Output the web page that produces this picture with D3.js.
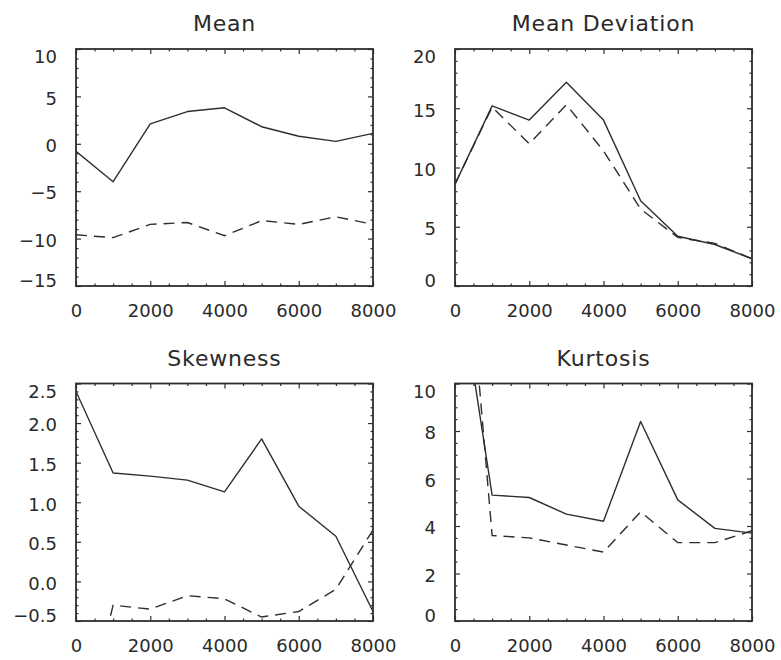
<!DOCTYPE html>
<html>
<head>
<meta charset="utf-8">
<script src="https://cdn.jsdelivr.net/npm/d3@7"></script>
<style>
  html, body { margin: 0; padding: 0; background: #fff; }
  svg { display: block; }
  text { font-family: "DejaVu Sans", sans-serif; fill: #2a2a2a; }
</style>
</head>
<body>
<svg id="chart" width="781" height="660"></svg>
<script>
// ---- data ----
const xValues = [0, 1000, 2000, 3000, 4000, 5000, 6000, 7000, 8000];
const xTicks = [0, 2000, 4000, 6000, 8000];

const titles = ["Mean", "Mean Deviation", "Skewness", "Kurtosis"];

const meanSolid  = [-0.8, -4.0, 2.1, 3.4, 3.8, 1.8, 0.8, 0.25, 1.1];
const meanDashed = [-9.6, -9.9, -8.5, -8.3, -9.7, -8.1, -8.5, -7.7, -8.5];

const mdevSolid  = [8.6, 15.2, 14.0, 17.2, 14.0, 7.2, 4.2, 3.5, 2.3];
const mdevDashed = [8.6, 15.1, 12.0, 15.3, 11.4, 6.5, 4.1, 3.6, 2.3];

const skewSolid  = [2.4, 1.37, 1.33, 1.28, 1.13, 1.8, 0.95, 0.57, -0.38];
const skewDashed = [-2.2, -0.3, -0.35, -0.18, -0.22, -0.45, -0.38, -0.1, 0.65];

const kurtSolid  = [15.5, 5.3, 5.2, 4.5, 4.2, 8.4, 5.1, 3.9, 3.7];
const kurtDashed = [22.0, 3.6, 3.5, 3.2, 2.9, 4.6, 3.3, 3.3, 3.8];

const meanTicks = [-15, -10, -5, 0, 5, 10];
const mdevTicks = [0, 5, 10, 15, 20];
const skewTicks = [-0.5, 0.0, 0.5, 1.0, 1.5, 2.0, 2.5];
const kurtTicks = [0, 2, 4, 6, 8, 10];

// ---- layout ----
const cols = [[76, 373], [455, 752]];
const rows = [[49, 286], [383.5, 621]];

const panels = [
  { title: titles[0], solid: meanSolid, dashed: meanDashed, domain: [-15, 10], ticks: meanTicks, minor: 1, fmt: d3.format("d"), col: 0, row: 0 },
  { title: titles[1], solid: mdevSolid, dashed: mdevDashed, domain: [0, 20], ticks: mdevTicks, minor: 1, fmt: d3.format("d"), col: 1, row: 0 },
  { title: titles[2], solid: skewSolid, dashed: skewDashed, domain: [-0.5, 2.5], ticks: skewTicks, minor: 0.1, fmt: d3.format(".1f"), col: 0, row: 1 },
  { title: titles[3], solid: kurtSolid, dashed: kurtDashed, domain: [0, 10], ticks: kurtTicks, minor: 0.5, fmt: d3.format("d"), col: 1, row: 1 }
];

const svg = d3.select("#chart");
const ink = "#2e2e2e";

panels.forEach((p, i) => {
  const [x0, x1] = cols[p.col];
  const [y0, y1] = rows[p.row];
  const x = d3.scaleLinear().domain([0, 8000]).range([x0, x1]);
  const y = d3.scaleLinear().domain(p.domain).range([y1, y0]);

  const g = svg.append("g");

  // clip
  const clipId = "clip" + i;
  svg.append("clipPath").attr("id", clipId)
    .append("rect").attr("x", x0).attr("y", y0).attr("width", x1 - x0).attr("height", y1 - y0);

  // minor tick values
  const nMinorX = Math.round(8000 / 500);
  const minorX = d3.range(nMinorX + 1).map(k => k * 500).filter(v => v % 2000 !== 0);
  const nMinorY = Math.round((p.domain[1] - p.domain[0]) / p.minor);
  const minorY = d3.range(nMinorY + 1).map(k => +(p.domain[0] + k * p.minor).toFixed(4))
    .filter(v => !p.ticks.some(t => Math.abs(t - v) < 1e-6));

  const styleAxis = sel => {
    sel.select(".domain").remove();
    sel.selectAll("line").attr("stroke", ink).attr("stroke-width", 1.2);
    sel.selectAll("text").attr("font-size", 18).attr("font-family", "DejaVu Sans, sans-serif").attr("fill", "#2a2a2a");
  };

  // bottom axis with labels
  g.append("g").attr("transform", `translate(0,${y1})`)
    .call(d3.axisBottom(x).tickValues(xTicks).tickFormat(d3.format("d")).tickSizeInner(-5).tickSizeOuter(0).tickPadding(18))
    .call(styleAxis);
  g.append("g").attr("transform", `translate(0,${y1})`)
    .call(d3.axisBottom(x).tickValues(minorX).tickFormat("").tickSizeInner(-2.5).tickSizeOuter(0))
    .call(styleAxis);
  // top axis (ticks only)
  g.append("g").attr("transform", `translate(0,${y0})`)
    .call(d3.axisTop(x).tickValues(xTicks).tickFormat("").tickSizeInner(-5).tickSizeOuter(0))
    .call(styleAxis);
  g.append("g").attr("transform", `translate(0,${y0})`)
    .call(d3.axisTop(x).tickValues(minorX).tickFormat("").tickSizeInner(-2.5).tickSizeOuter(0))
    .call(styleAxis);

  // left axis with labels
  const left = g.append("g").attr("transform", `translate(${x0},0)`)
    .call(d3.axisLeft(y).tickValues(p.ticks).tickFormat(p.fmt).tickSizeInner(-5).tickSizeOuter(0).tickPadding(19))
    .call(styleAxis);
  // nudge labels as in the reference: slightly below tick, end labels kept within box
  left.selectAll(".tick text").attr("y", d => {
    const py = y(d);
    const target = Math.max(y0 + 8, Math.min(y1 - 5, py + 2));
    return target - py;
  });
  g.append("g").attr("transform", `translate(${x0},0)`)
    .call(d3.axisLeft(y).tickValues(minorY).tickFormat("").tickSizeInner(-2.5).tickSizeOuter(0))
    .call(styleAxis);
  // right axis (ticks only)
  g.append("g").attr("transform", `translate(${x1},0)`)
    .call(d3.axisRight(y).tickValues(p.ticks).tickFormat("").tickSizeInner(-5).tickSizeOuter(0))
    .call(styleAxis);
  g.append("g").attr("transform", `translate(${x1},0)`)
    .call(d3.axisRight(y).tickValues(minorY).tickFormat("").tickSizeInner(-2.5).tickSizeOuter(0))
    .call(styleAxis);

  // box
  g.append("rect").attr("x", x0).attr("y", y0).attr("width", x1 - x0).attr("height", y1 - y0)
    .attr("fill", "none").attr("stroke", ink).attr("stroke-width", 1.8);

  // lines
  const line = d3.line().x((d, k) => x(xValues[k])).y(d => y(d));
  const lg = g.append("g").attr("clip-path", `url(#${clipId})`);
  lg.append("path").datum(p.solid).attr("d", line)
    .attr("fill", "none").attr("stroke", ink).attr("stroke-width", 1.4).attr("stroke-linejoin", "round");
  lg.append("path").datum(p.dashed).attr("d", line)
    .attr("fill", "none").attr("stroke", ink).attr("stroke-width", 1.4).attr("stroke-dasharray", "11,7");

  // title
  g.append("text").attr("x", (x0 + x1) / 2).attr("y", y0 - 18)
    .attr("text-anchor", "middle").attr("font-size", 22).attr("letter-spacing", "0.8px")
    .text(p.title);
});
</script>
</body>
</html>
